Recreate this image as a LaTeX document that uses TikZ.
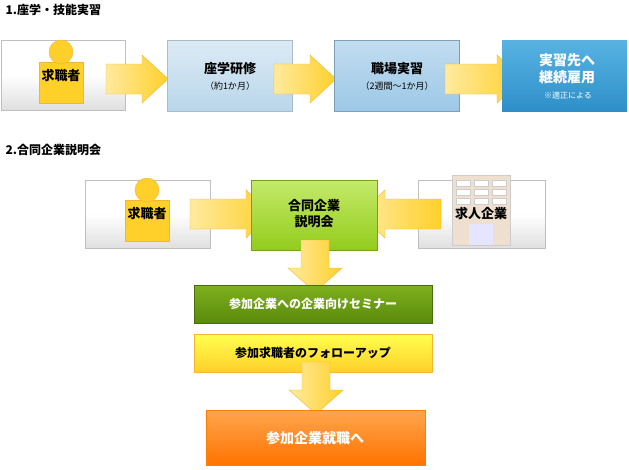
\documentclass[tikz,border=0pt]{standalone}
\usepackage{fontspec}
\setmainfont{Noto Sans CJK JP}
\definecolor{ylw}{HTML}{FFD02A}
\definecolor{ylwd}{HTML}{F2B530}
\definecolor{lb1}{HTML}{DCEBF5}
\definecolor{lb2}{HTML}{B9D6EA}
\definecolor{mb1}{HTML}{C2DDF0}
\definecolor{mb2}{HTML}{9CC8E6}
\definecolor{db1}{HTML}{58B3E3}
\definecolor{db2}{HTML}{2E8FC8}
\definecolor{lg1}{HTML}{C4EA6A}
\definecolor{lg2}{HTML}{93CC1C}
\definecolor{dg1}{HTML}{7EB01E}
\definecolor{dg2}{HTML}{5A8A0C}
\begin{document}
\begin{tikzpicture}[x=1pt,y=-1pt,
 wbox/.style={draw=gray!50,line width=1pt,top color=white,bottom color=gray!25,middle color=white},
 yarrow/.style={draw=ylwd,left color=ylw!45,right color=ylw},
 hd/.style={font=\bfseries\fontsize{12}{14}\selectfont,anchor=west},
 lbl/.style={font=\bfseries\fontsize{13}{16}\selectfont,align=center},
 sm/.style={font=\fontsize{9}{11}\selectfont}]
\useasboundingbox[fill=white] (0,0) rectangle (629,469);
\newcommand\person[2]{%
 \fill[ylw,draw=ylwd] (#1-22,#2-18) rectangle (#1+22,#2+23);
 \fill[ylw,draw=ylwd] (#1,#2-28) circle (12);}
\newcommand\building[2]{%
 \fill[brown!25,draw=gray!40] (#1-29,#2-37) rectangle (#1+29,#2+33);
 \foreach \i in {0,1,2}\foreach \j in {0,1,2}{\fill[white,draw=gray!40] (#1-25+\i*18,#2-32+\j*9) rectangle ++(14,6);}
 \fill[blue!10] (#1-12,#2+12) rectangle (#1+12,#2+33);}
\newcommand\yarr[7]{\begin{scope}[shift={(#1,#2)},rotate=#4]
 \path[yarrow] (-#3/2,-#5)--(#3/2-#7,-#5)--(#3/2-#7,-#6)--(#3/2,0)--(#3/2-#7,#6)--(#3/2-#7,#5)--(-#3/2,#5)--cycle;
 \end{scope}}
\node[hd] (h1) at (2,10) {1.座学・技能実習};
\node[hd] (h2) at (2,150) {2.合同企業説明会};
% row 1
\fill[wbox] (1,40) rectangle (125,110);
\person{61}{80}
\node[lbl] (p1) at (61,76) {求職者};
\yarr{137}{79}{62}{0}{15}{24}{26}
\fill[top color=lb1,bottom color=lb2,draw=lb2!80!black!80] (167,40) rectangle (292,111);
\node[lbl] (b2) at (230,69) {座学研修};
\node[sm] at (230,86) {（約1か月）};
\yarr{305}{79}{62}{0}{15}{24}{26}
\fill[top color=mb1,bottom color=mb2,draw=mb2!80!black] (334,40) rectangle (459,111);
\node[lbl] (b3) at (397,69) {職場実習};
\node[sm] at (397,86) {（2週間～1か月）};
\yarr{484}{79}{78}{0}{15}{24}{26}
\fill[top color=db1,bottom color=db2] (502,40) rectangle (627,111);
\node[lbl,text=white,font=\bfseries\fontsize{14}{17}\selectfont] (b4) at (567,69) {実習先へ\\継続雇用};
\node[text=white,font=\fontsize{8}{9}\selectfont] at (568,95) {※適正による};
% row 2
\fill[wbox] (85,180) rectangle (210,248);
\person{147}{218}
\node[lbl] (p2) at (147,214) {求職者};
\fill[wbox] (418,180) rectangle (545,248);
\building{481}{212}
\node[lbl] (c) at (481,213) {求人企業};
\yarr{231}{214}{82}{0}{15}{24}{26}
\yarr{400}{214}{82}{180}{15}{24}{26}
\fill[top color=lg1,bottom color=lg2,draw=lg2!80!black] (251,180) rectangle (377,250);
\node[lbl] (g) at (314,214) {合同企業\\説明会};
\yarr{315}{266}{52}{-90}{14}{27}{24}
\fill[top color=dg1,bottom color=dg2,draw=dg2!80!black] (194,285) rectangle (432,323);
\node[lbl,text=white,font=\bfseries\fontsize{12}{14}\selectfont] (s1) at (313,304) {参加企業への企業向けセミナー};
\fill[top color=yellow!70,bottom color=ylw,draw=ylwd] (194,334) rectangle (432,372);
\node[lbl,font=\bfseries\fontsize{12}{14}\selectfont] (s2) at (313,353) {参加求職者のフォローアップ};
\yarr{316}{388}{52}{-90}{14}{27}{24}
\fill[top color=orange!70,bottom color=orange!90!red,draw=orange] (206,410) rectangle (425,465);
\node[lbl,text=white,font=\bfseries\fontsize{14}{17}\selectfont] (s3) at (315,438) {参加企業就職へ};
\end{tikzpicture}
\end{document}
